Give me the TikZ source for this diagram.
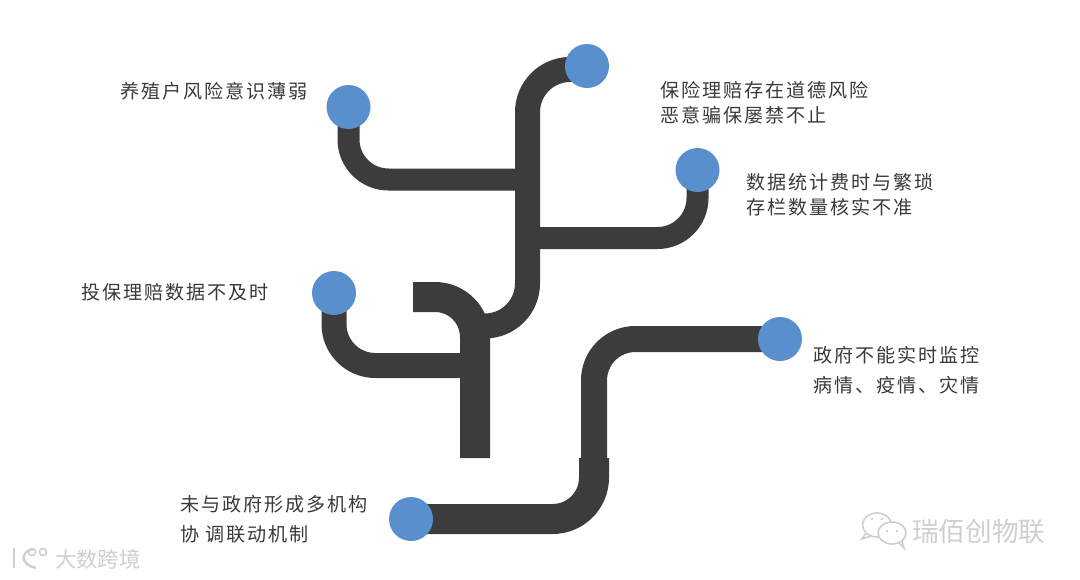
\documentclass[tikz,border=0pt]{standalone}
\usepackage{fontspec}
\usetikzlibrary{backgrounds,calc}
\newfontfamily\cjk[LetterSpace=10]{Noto Sans CJK SC}
\newfontfamily\cjkmark{Noto Sans CJK SC}
\definecolor{pipec}{HTML}{3C3C3C}
\definecolor{dotc}{HTML}{5A8FCE}
\definecolor{textc}{HTML}{3A3A3A}
\definecolor{markc}{HTML}{CFCFCF}
\tikzset{
  dot/.style={circle,fill=dotc,draw=none,minimum size=33pt,inner sep=0pt},
  pipe/.style={draw=pipec,line cap=butt,line join=round},
  label/.style={anchor=west,inner sep=0pt,text=textc,align=left},
  lbl/.style={label,font={\cjk\fontsize{14.3pt}{18.75pt}\selectfont}},
  lblwide/.style={label,font={\cjk\fontsize{14.3pt}{22.5pt}\selectfont}},
  wm/.style={anchor=west,inner sep=0pt,text=markc},
  wmline/.style={draw=markc,line width=1.2pt,fill=none}
}
\begin{document}
\begin{tikzpicture}[x=0.75pt,y=-0.75pt]
\useasboundingbox (0,0) rectangle (1080,579);
% end points
\node[dot] (a) at (587,66) {};
\node[dot] (b) at (348.5,107) {};
\node[dot] (c) at (697.5,170) {};
\node[dot] (d) at (334,293) {};
\node[dot] (e) at (780,339) {};
\node[dot] (f) at (411,519) {};
\coordinate (stemtop) at (527.5,179.5);
\coordinate (stemright) at (527.5,238);
\coordinate (stembend) at (527.5,326);
\coordinate (stemend) at (470,326);
\coordinate (ystart) at (413,297);
\coordinate (yfoot) at (475,458);
\coordinate (yjoin) at (475,365.5);
\coordinate (knee) at (594,458);
\begin{scope}[on background layer]
  \fill[white] (0,0) rectangle (1080,579);
  \draw[pipe,line width=16.5pt,rounded corners=30pt] (b.center) |- (stemtop);
  \draw[pipe,line width=16.5pt,rounded corners=30pt] (c.center) |- (stemright);
  \draw[pipe,line width=18.75pt,rounded corners=32pt] ([yshift=-2.6pt]a.center) -| (stembend) -- (stemend);
  \draw[pipe,line width=18.75pt,rounded corners=31pt] (d.center) |- (yjoin);
  \draw[pipe,line width=22.5pt,rounded corners=30pt] (ystart) -| (yfoot);
  \draw[pipe,line width=19.5pt,rounded corners=31pt] (e.center) -| (knee);
  \draw[pipe,line width=22.5pt,rounded corners=31pt] (knee) |- (f.center);
\end{scope}
% labels
\node[lbl] (t1) at (120,91) {养殖户风险意识薄弱};
\node[lbl] (t2) at (660,102.5) {保险理赔存在道德风险\\恶意骗保屡禁不止};
\node[lbl] (t3) at (746,194.5) {数据统计费时与繁琐\\存栏数量核实不准};
\node[lbl] (t4) at (81,292) {投保理赔数据不及时};
\node[lblwide] (t5) at (813,370) {政府不能实时监控\\病情、疫情、灾情};
\node[lblwide] (t6) at (180,519) {未与政府形成多机构\\协 调联动机制};
% watermarks
\node[wm,font={\cjkmark\fontsize{20pt}{22pt}\selectfont}] (w1) at (912,531) {瑞佰创物联};
\node[wm,font={\cjkmark\fontsize{16pt}{18pt}\selectfont}] (w2) at (55,559) {大数跨境};
% WeChat mark
\draw[wmline] (877,525) ellipse [x radius=14.5,y radius=12];
\draw[wmline,fill=white] (892,533) ellipse [x radius=14,y radius=11];
\fill[markc] (872,519) circle (1pt) (882,519) circle (1pt) (887,531) circle (1pt) (897,531) circle (1pt);
\draw[wmline] (866,533) -- (862,539) -- (871,536);
\draw[wmline] (899,543) -- (904,548) -- (902,541);
% k logo
\draw[wmline,line width=1.8pt] (14,548) -- (14,568);
\draw[wmline,line width=1.8pt] (33,549) .. controls (20,552) and (20,564) .. (36,568);
\draw[wmline] (32,552) circle (3.5);
\draw[wmline] (43,552) circle (3.5);
\end{tikzpicture}
\end{document}
